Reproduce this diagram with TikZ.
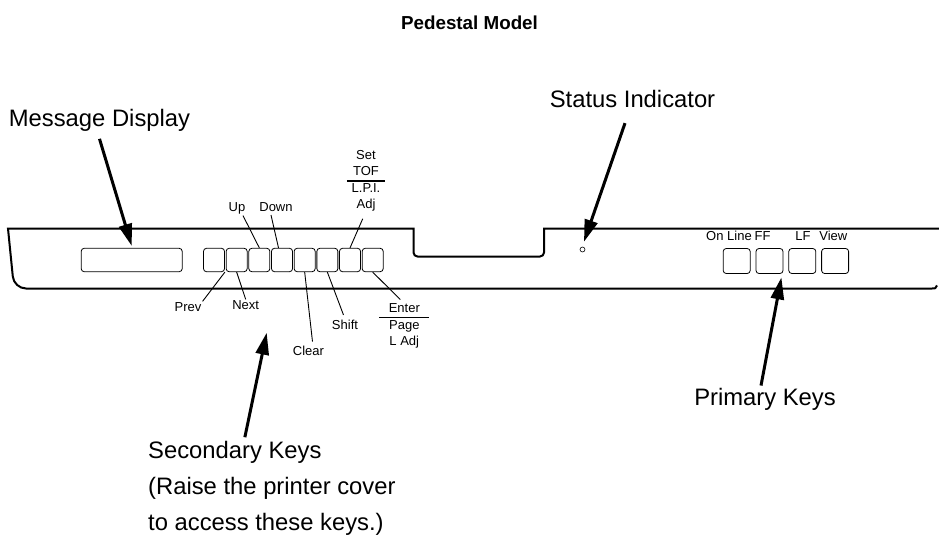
\documentclass[tikz,border=0pt]{standalone}
\usepackage{fontspec}
\setmainfont{Liberation Sans}
\usetikzlibrary{arrows.meta}
\setlength\arrayrulewidth{1.2pt}

\begin{document}
\begin{tikzpicture}[x=1pt,y=-1pt,
  panel/.style={line width=2pt},
  skey/.style={draw, line width=0.8pt, rounded corners=3pt, minimum width=21pt, minimum height=23.4pt, inner sep=0pt},
  pkey/.style={skey, minimum width=27pt, minimum height=25pt},
  leader/.style={line width=0.9pt},
  pointer/.style={line width=3pt, -{Triangle[length=22pt,width=13pt]}},
  keylbl/.style={font=\fontsize{13}{16}\selectfont, inner sep=1pt, anchor=base},
  callout/.style={font=\fontsize{23.8}{28}\selectfont, inner sep=0pt}]
  \useasboundingbox (0,0) rectangle (939,538);
  % Title
  \node[font=\fontsize{18.8}{22}\selectfont\bfseries, anchor=base] (title) at (469.5,29.3) {Pedestal Model};
  % Panel outline
  \draw[panel] (939,228.5) -- (544,228.5) [rounded corners=4pt] -- (544,256.5) -- (413.5,256.5) [sharp corners] -- (413.5,228.5) -- (8,228.5) [rounded corners=12pt] -- (14,288.5) [sharp corners] -- (932,288.5) .. controls (935.5,288.5) .. (937,285.5);
  % Message display and keys
  \node[skey, minimum width=101pt] (disp) at (131.7,260) {};
  \foreach \i in {1,...,8}
    \node[skey] (s\i) at ({214+22.67*(\i-1)},260) {};
  \foreach \i in {1,...,4}
    \node[pkey] (p\i) at ({736.7+32.8*(\i-1)},261) {};
  % Status light
  \node[circle, draw, line width=0.6pt, minimum size=5pt, inner sep=0pt] (led) at (582.5,249.5) {};
  % Key labels
  \node[keylbl] (up) at (237,211.7) {Up};
  \node[keylbl] (down) at (276,211.7) {Down};
  \node[keylbl] (prev) at (188,311.5) {Prev};
  \node[keylbl] (next) at (245.7,309.5) {Next};
  \node[keylbl] (clear) at (308.5,355.3) {Clear};
  \node[keylbl] (shift) at (345,329.6) {Shift};
  \node[keylbl] (tof) at (366,159.6) {\setlength\tabcolsep{4.8pt}\begin{tabular}[t]{c}Set\\TOF\\\hline L.P.I.\\Adj\end{tabular}};
  \node[keylbl] (enter) at (404.3,312) {\setlength\tabcolsep{9.5pt}\begin{tabular}[t]{c}Enter\\\hline Page\\L Adj\end{tabular}};
  \node[keylbl] (online) at (729,240) {On Line};
  \node[keylbl] (ff) at (762.5,240) {FF};
  \node[keylbl] (lf) at (803,240) {LF};
  \node[keylbl] (view) at (833.3,240) {View};
  % Leaders
  \draw[leader] (s1.south east) -- (prev.north east);
  \draw[leader] (s2.south) -- (next.north);
  \draw[leader] ([xshift=6pt]up.south) -- (s3.north);
  \draw[leader] ([xshift=-5pt,yshift=-2pt]down.south) -- ([xshift=-3.5pt]s4.north);
  \draw[leader] (s5.south) -- ([xshift=4pt,yshift=3pt]clear.north);
  \draw[leader] (s6.south) -- ([xshift=-1.5pt,yshift=4pt]shift.north);
  \draw[leader] ([xshift=-3.3pt,yshift=-4pt]tof.south) -- (s7.north);
  \draw[leader] (s8.south) -- ([xshift=-4pt]enter.north);
  % Callouts
  \node[callout, anchor=base] (msg) at (99.5,126.7) {Message Display};
  \node[callout, anchor=base] (stat) at (632.5,107.7) {Status Indicator};
  \node[callout, anchor=base] (prim) at (765,405) {Primary Keys};
  \node[callout, anchor=base west] (sec) at (148,458.3) {Secondary Keys};
  \node[callout, anchor=base west] (seca) at (148,494.3) {(Raise the printer cover};
  \node[callout, anchor=base west] (secb) at (148,530) {to access these keys.)};
  \coordinate (sectip) at (266.7,332.7);
  \draw[pointer] ([yshift=-7pt]msg.south) -- ([yshift=2pt]disp.north);
  \draw[pointer] ([xshift=-7.5pt,yshift=-15pt]stat.south) -- ([xshift=1.5pt,yshift=5pt]led.north);
  \draw[pointer] ([xshift=10pt,yshift=3.6pt]sec.north) -- (sectip);
  \draw[pointer] ([xshift=-4pt,yshift=2pt]prim.north) -- ([xshift=-2pt,yshift=-3.5pt]p2.south east);
\end{tikzpicture}
\end{document}
